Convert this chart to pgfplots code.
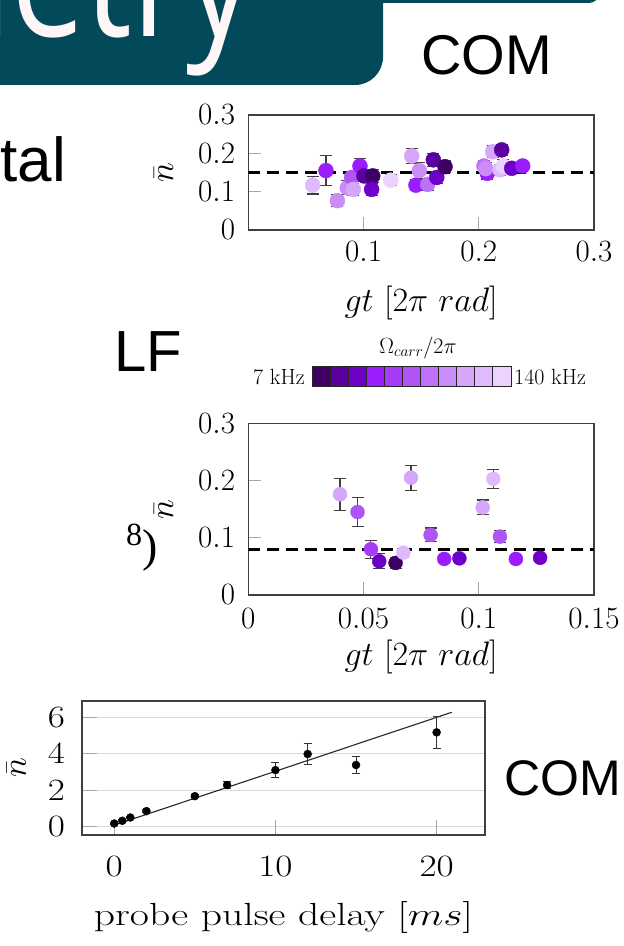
\RequirePackage{fix-cm}
\documentclass[border=0pt]{standalone}
\usepackage{fontspec}
\usepackage{pgfplots}
\usepackage{pgfplotstable}
\pgfplotsset{compat=1.18}
\newfontfamily\arialf{Liberation Sans}
\newfontfamily\serif{Liberation Serif}
\newfontfamily\osans{Open Sans}
\definecolor{bteal}{HTML}{024A5A}
\definecolor{ca}{HTML}{3F0066}
\definecolor{cb}{HTML}{5A009E}
\definecolor{cc}{HTML}{6E00C8}
\definecolor{cd}{HTML}{9B1CFF}
\definecolor{ce}{HTML}{A63CF5}
\definecolor{cf}{HTML}{B055F5}
\definecolor{cg}{HTML}{BF70F8}
\definecolor{ch}{HTML}{C98CF8}
\definecolor{ci}{HTML}{D6A6FA}
\definecolor{cj}{HTML}{E0BAFC}
\definecolor{ck}{HTML}{ECD2FE}
\newcommand\tk{\fontsize{31}{36}\selectfont}
\newcommand\lb{\fontsize{34}{40}\selectfont}
\newcommand\cbf{\fontsize{22}{26}\selectfont}
\pgfplotsset{colormap={purp}{color=(ca) color=(cb) color=(cc) color=(cd) color=(ce) color=(cf) color=(cg) color=(ch) color=(ci) color=(cj) color=(ck)}}

\pgfplotstableread{
x y e c
0.0559 0.117 0.023 9
0.0674 0.155 0.039 3
0.0773 0.0765 0.016 7
0.0859 0.110 0.018 7
0.0897 0.137 0.016 5
0.0911 0.106 0.016 8
0.0969 0.167 0.020 3
0.1004 0.141 0.015 1
0.1080 0.141 0.016 0
0.1070 0.106 0.016 2
0.1236 0.130 0.015 10
0.1418 0.193 0.019 8
0.1455 0.117 0.015 3
0.1484 0.155 0.020 7
0.1557 0.119 0.015 6
0.1606 0.183 0.017 1
0.1635 0.137 0.015 2
0.1707 0.165 0.015 0
0.2045 0.167 0.015 6
0.2074 0.148 0.015 3
0.2060 0.160 0.015 7
0.2121 0.204 0.015 8
0.2199 0.209 0.015 1
0.2184 0.157 0.015 9
0.2213 0.167 0.018 10
0.2286 0.161 0.012 2
0.2381 0.167 0.010 3
}\topdata

\pgfplotstableread{
x y e c
0.0398 0.176 0.028 8
0.0474 0.145 0.025 5
0.0532 0.080 0.016 4
0.0568 0.059 0.013 2
0.0639 0.056 0.010 0
0.0673 0.074 0.008 9
0.0706 0.205 0.022 8
0.0791 0.105 0.012 5
0.0850 0.063 0.006 3
0.0916 0.064 0.006 2
0.1017 0.153 0.013 8
0.1063 0.203 0.017 9
0.1092 0.102 0.011 5
0.1161 0.063 0.006 3
0.1266 0.065 0.006 2
}\middata

\pgfplotstableread{
x y e
0 0.18 0.05
0.5 0.33 0.05
1 0.51 0.06
2 0.86 0.08
5 1.68 0.10
7 2.29 0.20
10 3.11 0.40
12 3.99 0.60
15 3.39 0.46
20 5.18 0.89
}\botdata

\pgfplotsset{
  common/.style={
    scale only axis, anchor=south west,
    axis line style={black!75, line width=1.2pt},
    tick style={black!35, line width=1pt},
    major tick length=13pt, tick align=inside,
    xtick pos=bottom, ytick pos=left,
    every tick label/.append style={font=\tk, inner sep=0pt},
    label style={font=\lb, inner sep=0pt},
    colormap name=purp, point meta min=0, point meta max=10,
  },
  purpscatter/.style={scatter, only marks, mark=*, mark size=#1, point meta=explicit,
    scatter/use mapped color={draw=mapped color, fill=mapped color},
    error bars/.cd, y dir=both, y explicit,
    error bar style={line width=1.1pt, black!75},
    error mark options={rotate=90, mark size=6pt, line width=1.1pt, black!75}},
}

\begin{document}
\begin{tikzpicture}
\useasboundingbox (0pt,0pt) rectangle (624pt,946pt);
% slide decorations
\fill[bteal, rounded corners=28pt] (-60pt,861pt) rectangle (383pt,1000pt);
\fill[bteal, rounded corners=14pt] (360pt,943pt) rectangle (602pt,1000pt);
\node[anchor=base east, inner sep=0pt, xscale=0.8, text=white!97!red, font=\osans\fontsize{165}{165}\selectfont] at (253pt,909pt) {Thermometry};
\node[anchor=base west, inner sep=0pt, font=\arialf\fontsize{56}{60}\selectfont] at (421pt,871pt) {COM};
\node[anchor=base east, inner sep=0pt, font=\arialf\fontsize{62}{66}\selectfont] at (66pt,764pt) {tal};
\node[anchor=base west, inner sep=0pt, font=\arialf\fontsize{58}{62}\selectfont] at (114pt,574pt) {LF};
\node[anchor=base west, inner sep=0pt, font=\serif\fontsize{46}{50}\selectfont] at (126pt,384pt) {\textsuperscript{8})};
\node[anchor=base west, inner sep=0pt, font=\arialf\fontsize{50}{54}\selectfont] at (504pt,150pt) {COM};

% top plot
\begin{axis}[common, at={(248.3pt,716pt)}, width=345.7pt, height=115pt,
  xmin=0, xmax=0.3, ymin=0, ymax=0.3,
  xtick={0.1,0.2,0.3}, xticklabels={$0.1$,$0.2$,$0.3$},
  ytick={0,0.1,0.2,0.3}, yticklabels={$0$,$0.1$,$0.2$,$0.3$},
  xticklabel style={anchor=north, yshift=-11.7pt},
  yticklabel style={anchor=east, xshift=-13pt},
  xlabel={$gt\ [2\pi\ rad]$}, ylabel={$\bar{n}$},
  xlabel style={at={(axis description cs:0.5,-0.635)}, anchor=center},
  ylabel style={at={(axis description cs:-0.245,0.5)}, anchor=center},
]
\addplot[black, line width=3pt, dash pattern=on 12pt off 7pt] coordinates {(0,0.15) (0.3,0.15)};
\addplot[purpscatter=7.5pt] table[x=x, y=y, y error=e, meta=c]{\topdata};
\end{axis}

% colorbar
\begin{axis}[scale only axis, anchor=south west, at={(312.7pt,559.3pt)}, width=198.3pt, height=20pt,
  xmin=0, xmax=11, ymin=0, ymax=1, ticks=none, clip=false, axis line style={black!85, line width=1.2pt}]
\addplot[fill=ca, draw=black!85, line width=1pt] coordinates {(0,0) (1,0) (1,1) (0,1)} -- cycle;
\addplot[fill=cb, draw=black!85, line width=1pt] coordinates {(1,0) (2,0) (2,1) (1,1)} -- cycle;
\addplot[fill=cc, draw=black!85, line width=1pt] coordinates {(2,0) (3,0) (3,1) (2,1)} -- cycle;
\addplot[fill=cd, draw=black!85, line width=1pt] coordinates {(3,0) (4,0) (4,1) (3,1)} -- cycle;
\addplot[fill=ce, draw=black!85, line width=1pt] coordinates {(4,0) (5,0) (5,1) (4,1)} -- cycle;
\addplot[fill=cf, draw=black!85, line width=1pt] coordinates {(5,0) (6,0) (6,1) (5,1)} -- cycle;
\addplot[fill=cg, draw=black!85, line width=1pt] coordinates {(6,0) (7,0) (7,1) (6,1)} -- cycle;
\addplot[fill=ch, draw=black!85, line width=1pt] coordinates {(7,0) (8,0) (8,1) (7,1)} -- cycle;
\addplot[fill=ci, draw=black!85, line width=1pt] coordinates {(8,0) (9,0) (9,1) (8,1)} -- cycle;
\addplot[fill=cj, draw=black!85, line width=1pt] coordinates {(9,0) (10,0) (10,1) (9,1)} -- cycle;
\addplot[fill=ck, draw=black!85, line width=1pt] coordinates {(10,0) (11,0) (11,1) (10,1)} -- cycle;
\node[anchor=east, inner sep=0pt, font=\cbf] at (axis description cs:-0.039,0.5) {7 kHz};
\node[anchor=west, inner sep=0pt, font=\cbf] at (axis description cs:1.015,0.5) {140 kHz};
\node[anchor=center, inner sep=0pt, font=\cbf] at (axis description cs:0.531,1.935) {$\Omega_{carr}/2\pi$};
\end{axis}

% middle plot
\begin{axis}[common, at={(248.3pt,351pt)}, width=345.7pt, height=171.7pt,
  xmin=0, xmax=0.15, ymin=0, ymax=0.3,
  xtick={0,0.05,0.1,0.15}, xticklabels={$0$,$0.05$,$0.1$,$0.15$},
  ytick={0,0.1,0.2,0.3}, yticklabels={$0$,$0.1$,$0.2$,$0.3$},
  xticklabel style={anchor=north, yshift=-13pt},
  yticklabel style={anchor=east, xshift=-13pt},
  xlabel={$gt\ [2\pi\ rad]$}, ylabel={$\bar{n}$},
  xlabel style={at={(axis description cs:0.5,-0.361)}, anchor=center},
  ylabel style={at={(axis description cs:-0.245,0.5)}, anchor=center},
]
\addplot[black, line width=3pt, dash pattern=on 12pt off 7pt] coordinates {(0,0.08) (0.15,0.08)};
\addplot[purpscatter=7pt] table[x=x, y=y, y error=e, meta=c]{\middata};
\end{axis}

% bottom plot
\begin{axis}[common, at={(82pt,111pt)}, width=403pt, height=134pt,
  xmin=-2, xmax=23, ymin=-0.45, ymax=6.9,
  major tick length=15pt,
  xtick={0,10,20}, xticklabels={$0$,$10$,$20$},
  ytick={0,2,4,6}, yticklabels={$0$,$2$,$4$,$6$},
  ymajorgrids, major grid style={black!15, line width=1.2pt},
  every tick label/.append style={xscale=1.2},
  xticklabel style={anchor=north, yshift=-21.7pt},
  yticklabel style={anchor=east, xshift=-14pt},
  xlabel={probe pulse delay $[ms]$}, ylabel={$\bar{n}$},
  xlabel style={at={(axis description cs:0.5,-0.612)}, anchor=center, font=\fontsize{32}{38}\selectfont, xscale=1.3},
  ylabel style={at={(axis description cs:-0.163,0.5)}, anchor=center},
]
\addplot[black!85, line width=1.1pt] coordinates {(0,0.09) (20.94,6.28)};
\addplot[only marks, mark=*, mark size=4pt, black,
  error bars/.cd, y dir=both, y explicit,
  error bar style={line width=1pt, black!80},
  error mark options={rotate=90, mark size=4pt, line width=1pt, black!80}]
  table[x=x, y=y, y error=e]{\botdata};
\end{axis}
\end{tikzpicture}
\end{document}
